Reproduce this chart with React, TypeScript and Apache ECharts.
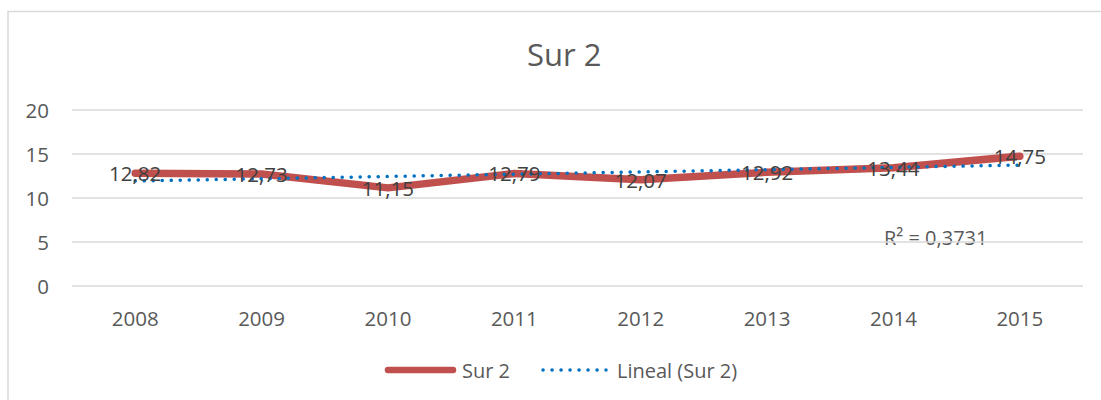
import React, { useEffect, useRef } from "react";
import * as echarts from "echarts";

const years = ["2008", "2009", "2010", "2011", "2012", "2013", "2014", "2015"];
const sur2 = [12.82, 12.73, 11.15, 12.79, 12.07, 12.92, 13.44, 14.75];
// linear trend line endpoints (2008 and 2015)
const trendStart = 11.93;
const trendEnd = 13.74;
const yTicks = [0, 5, 10, 15, 20];
const title = "Sur 2";
const seriesName = "Sur 2";
const trendName = "Lineal (Sur 2)";
const r2Label = "R² = 0,3731";

const FONT = "'Open Sans', 'Noto Sans', sans-serif";
const RED = "#C0504D";
const BLUE = "#0070C0";

export default function App() {
  const ref = useRef<HTMLDivElement>(null);
  useEffect(() => {
    if (!ref.current) return;
    const chart = echarts.init(ref.current, undefined, { renderer: "svg" });
    const trend = years.map((_, i) =>
      i === 0 ? trendStart : i === years.length - 1 ? trendEnd : null
    );
    chart.setOption({
      animation: false,
      backgroundColor: "#ffffff",
      textStyle: { fontFamily: FONT },
      title: {
        text: title,
        left: 522,
        top: 33,
        textStyle: { fontFamily: FONT, fontSize: 31, fontWeight: "normal", color: "#595959" },
      },
      grid: { left: 72, right: 18, top: 110, bottom: 114, containLabel: false },
      xAxis: {
        type: "category",
        data: years,
        boundaryGap: true,
        axisLine: { show: false },
        axisTick: { show: false },
        axisLabel: { color: "#595959", fontSize: 20.5, fontFamily: FONT, margin: 21 },
      },
      yAxis: {
        type: "value",
        min: yTicks[0],
        max: yTicks[yTicks.length - 1],
        interval: 5,
        axisLine: { show: false },
        axisTick: { show: false },
        splitLine: { lineStyle: { color: "#d9d9d9", width: 1.5 } },
        axisLabel: { color: "#595959", fontSize: 20.5, fontFamily: FONT, margin: 23 },
      },
      series: [
        {
          name: seriesName,
          type: "line",
          data: sur2,
          symbol: "none",
          z: 2,
          lineStyle: { color: RED, width: 7.5, cap: "round", join: "round" },
          itemStyle: { color: RED },
        },
        {
          name: trendName,
          type: "line",
          data: trend,
          connectNulls: true,
          symbol: "none",
          z: 3,
          lineStyle: { color: BLUE, width: 3.5, type: [0.1, 8.9], cap: "round" },
          itemStyle: { color: BLUE },
        },
        {
          name: "labels",
          type: "line",
          data: sur2,
          symbol: "circle",
          symbolSize: 1,
          showSymbol: true,
          z: 10,
          silent: true,
          itemStyle: { color: "rgba(0,0,0,0)" },
          lineStyle: { width: 0, color: "rgba(0,0,0,0)" },
          label: {
            show: true,
            position: "inside",
            formatter: (p: any) => Number(p.value).toFixed(2).replace(".", ","),
            color: "#404040",
            fontSize: 20.5,
            fontFamily: FONT,
          },
        },
      ],
      graphic: [
        {
          type: "rect",
          shape: { x: 8, y: 11.5, width: 1200, height: 500 },
          style: { fill: "none", stroke: "#d9d9d9", lineWidth: 1.5 },
          silent: true,
          z: -1,
        },
        {
          type: "text",
          x: 884,
          y: 237,
          style: {
            text: r2Label,
            fill: "#595959",
            font: `20px ${FONT}`,
            textVerticalAlign: "middle",
          },
        },
        {
          type: "line",
          shape: { x1: 388, y1: 370, x2: 453, y2: 370 },
          style: { stroke: RED, lineWidth: 6.5, lineCap: "round" },
        },
        {
          type: "text",
          x: 462,
          y: 370,
          style: {
            text: seriesName,
            fill: "#595959",
            font: `20px ${FONT}`,
            textVerticalAlign: "middle",
          },
        },
        {
          type: "line",
          shape: { x1: 543, y1: 370, x2: 606, y2: 370 },
          style: { stroke: BLUE, lineWidth: 3.5, lineCap: "round", lineDash: [0.1, 8.9] },
        },
        {
          type: "text",
          x: 617,
          y: 370,
          style: {
            text: trendName,
            fill: "#595959",
            font: `20px ${FONT}`,
            textVerticalAlign: "middle",
          },
        },
      ],
    });
    return () => chart.dispose();
  }, []);
  return (
    <div
      ref={ref}
      style={{ position: "absolute", left: 0, top: 0, width: 1101, height: 400 }}
    />
  );
}
